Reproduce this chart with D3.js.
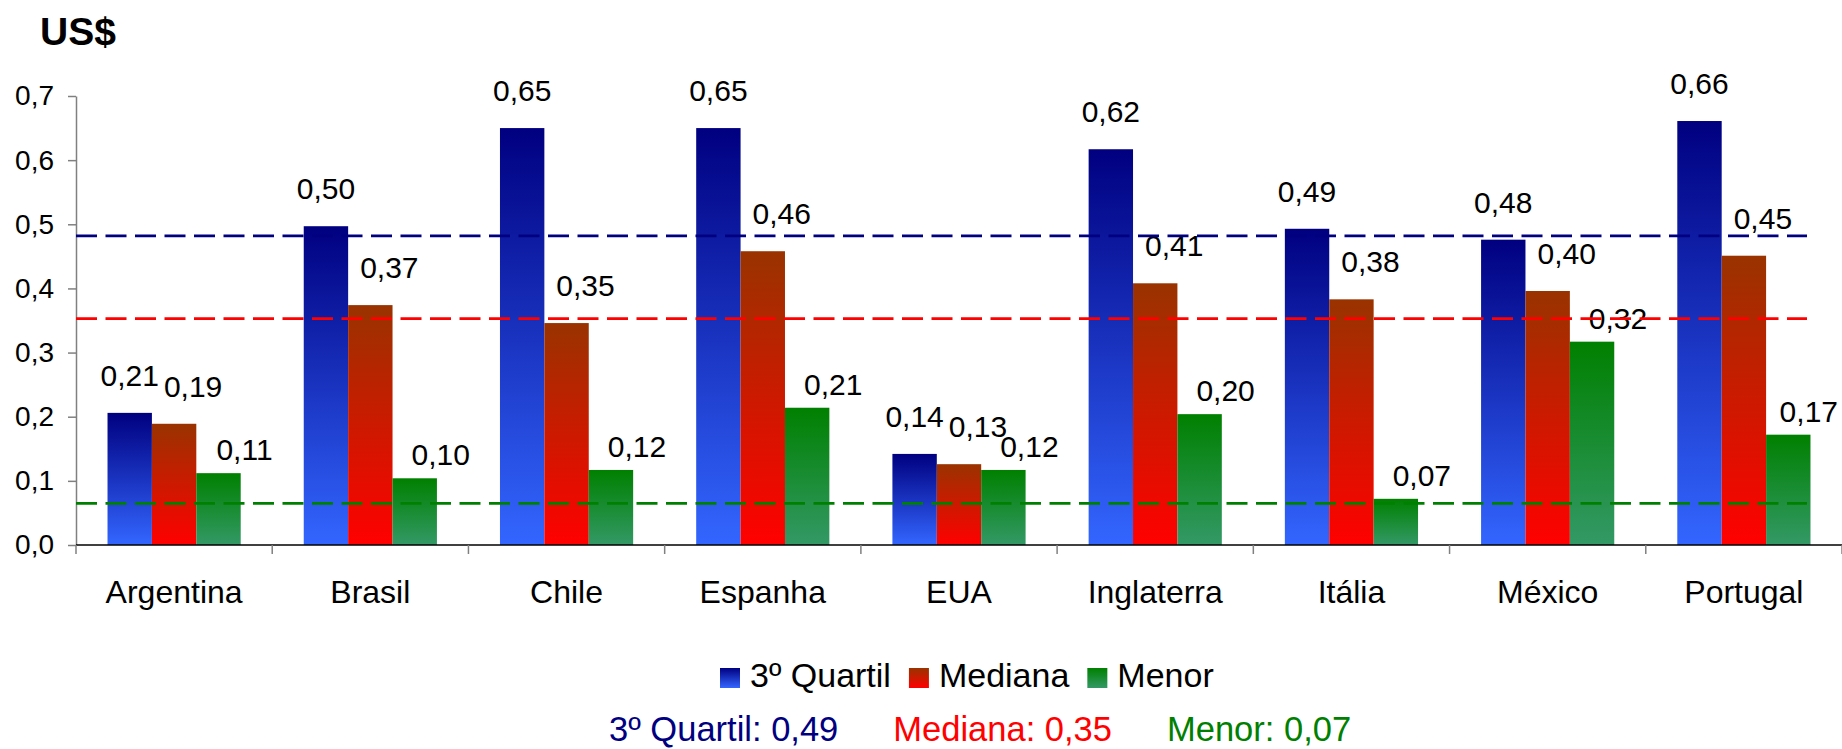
<!DOCTYPE html>
<html lang="pt">
<head>
<meta charset="UTF-8">
<title>US$</title>
<style>
  body { margin: 0; background: #fff; }
  svg text { font-family: "Liberation Sans", Arial, sans-serif; }
</style>
</head>
<body>
<script src="https://cdn.jsdelivr.net/npm/d3@7"></script>
<script>
// dados
var categories = ["Argentina", "Brasil", "Chile", "Espanha", "EUA", "Inglaterra", "Itália", "México", "Portugal"];
var seriesNames = ["3º Quartil", "Mediana", "Menor"];
var quartil3 = [0.206, 0.497, 0.650, 0.650, 0.142, 0.617, 0.493, 0.476, 0.661];
var mediana  = [0.189, 0.374, 0.346, 0.458, 0.126, 0.408, 0.383, 0.396, 0.451];
var menor    = [0.112, 0.104, 0.117, 0.214, 0.117, 0.204, 0.072, 0.317, 0.172];
var yTicks = [0, 0.1, 0.2, 0.3, 0.4, 0.5, 0.6, 0.7];
var refLevels = [0.482, 0.353, 0.065];   // linhas tracejadas
var refStats = [0.49, 0.35, 0.07];       // texto do rodapé

var W = 1842, H = 749;
var pt = d3.formatLocale({decimal: ",", thousands: ".", grouping: [3], currency: ["", ""]});
var f1 = pt.format(".1f"), f2 = pt.format(".2f");

// cores (topo -> base)
var grads = [
  {id: "gBlue", top: "#000080", bot: "#3366ff", line: "#000080"},
  {id: "gRed", top: "#993300", bot: "#ff0000", line: "#ff0000"},
  {id: "gGreen", top: "#008000", bot: "#339966", line: "#008000"}
];

var svg = d3.select("body").append("svg").attr("width", W).attr("height", H);
var defs = svg.append("defs");
grads.forEach(function(g) {
  var lg = defs.append("linearGradient").attr("id", g.id)
    .attr("x1", 0).attr("y1", 0).attr("x2", 0).attr("y2", 1);
  lg.append("stop").attr("offset", "0%").attr("stop-color", g.top);
  lg.append("stop").attr("offset", "100%").attr("stop-color", g.bot);
});

var x0 = d3.scaleBand().domain(categories).range([76, 1842]).padding(0);
var x1 = d3.scaleBand().domain([0, 1, 2]).range([0, x0.bandwidth()]).paddingInner(0).paddingOuter(0.71);
var y = d3.scaleLinear().domain([0, 0.7]).range([545, 96]);

// titulo
svg.append("text").attr("x", 40).attr("y", 45)
  .style("font-size", "39px").style("font-weight", "bold").text("US$");

// eixo y
var ya = svg.append("g").attr("transform", "translate(76,0)")
  .call(d3.axisLeft(y).tickValues(yTicks).tickFormat(f1).tickSize(8).tickSizeOuter(0));
ya.select(".domain").attr("stroke", "#808080").attr("stroke-width", 1.5);
ya.selectAll(".tick line").attr("stroke", "#808080").attr("stroke-width", 1.5);
ya.selectAll(".tick text").attr("x", -22).style("font-size", "28px")
  .style("font-family", "Liberation Sans, Arial, sans-serif").attr("fill", "#000");

// barras
var series = [quartil3, mediana, menor];
var labelDx = [0, 19, 26], labelDy = [27, 27, 13];
var groups = svg.selectAll("g.cat").data(categories).enter().append("g")
  .attr("class", "cat").attr("transform", function(d) { return "translate(" + x0(d) + ",0)"; });

series.forEach(function(vals, s) {
  groups.append("rect")
    .attr("x", x1(s)).attr("width", x1.bandwidth())
    .attr("y", function(d, i) { return y(vals[i]); })
    .attr("height", function(d, i) { return y(0) - y(vals[i]); })
    .attr("fill", "url(#" + grads[s].id + ")");
});

// linhas de referencia
svg.selectAll("line.ref").data(refLevels).enter().append("line")
  .attr("class", "ref")
  .attr("x1", 76).attr("x2", 1807)
  .attr("y1", function(d) { return y(d); }).attr("y2", function(d) { return y(d); })
  .attr("stroke", function(d, i) { return grads[i].line; })
  .attr("stroke-width", 2.8).attr("stroke-dasharray", "21,8.5");

// rotulos dos valores (mantidos dentro da largura do grafico)
series.forEach(function(vals, s) {
  groups.append("text")
    .attr("y", function(d, i) { return y(vals[i]) - labelDy[s]; })
    .attr("text-anchor", "middle").style("font-size", "30px")
    .text(function(d, i) { return f2(vals[i]); })
    .attr("x", function(d) {
      var cx = x1(s) + x1.bandwidth() / 2 + labelDx[s];
      var half = this.getComputedTextLength() / 2;
      var maxX = W - 4 - half - x0(d);
      return Math.min(cx, maxX);
    });
});

// eixo x
svg.append("line").attr("x1", 76).attr("x2", 1842).attr("y1", 545).attr("y2", 545)
  .attr("stroke", "#000").attr("stroke-width", 1.5);
svg.selectAll("line.xt").data(categories.concat(["end"])).enter().append("line")
  .attr("class", "xt")
  .attr("x1", function(d, i) { return 76 + i * x0.step(); })
  .attr("x2", function(d, i) { return 76 + i * x0.step(); })
  .attr("y1", 545).attr("y2", 554).attr("stroke", "#808080").attr("stroke-width", 1.5);
svg.selectAll("text.cat").data(categories).enter().append("text")
  .attr("class", "cat")
  .attr("x", function(d) { return x0(d) + x0.bandwidth() / 2; })
  .attr("y", 603).attr("text-anchor", "middle").style("font-size", "32px")
  .text(function(d) { return d; });

// legenda
var lx = 720;
seriesNames.forEach(function(n, s) {
  svg.append("rect").attr("x", lx).attr("y", 668).attr("width", 20).attr("height", 20)
    .attr("fill", "url(#" + grads[s].id + ")");
  var t = svg.append("text").attr("x", lx + 30).attr("y", 687)
    .style("font-size", "34px").text(n);
  lx += 30 + t.node().getComputedTextLength() + 18;
});

// rodape
var fx = 609;
seriesNames.forEach(function(n, s) {
  var t = svg.append("text").attr("x", fx).attr("y", 741)
    .style("font-size", "34.5px").attr("fill", grads[s].line)
    .text(n + ": " + f2(refStats[s]));
  fx += t.node().getComputedTextLength() + 55;
});
</script>
</body>
</html>
